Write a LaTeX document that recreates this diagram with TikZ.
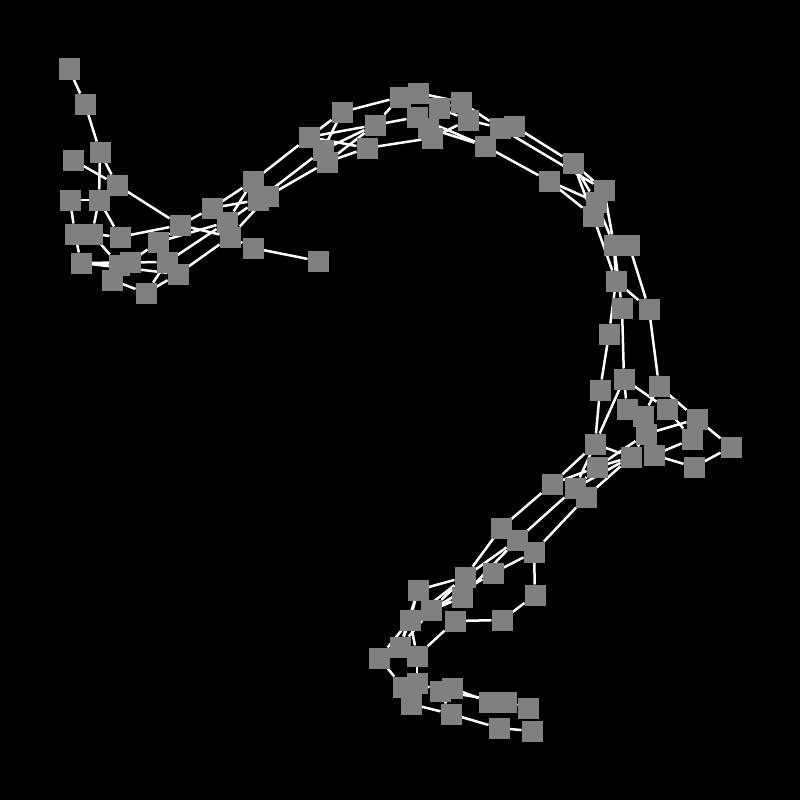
\documentclass[tikz,border=0pt]{standalone}
\pgfdeclarelayer{bg}
\pgfdeclarelayer{edges}
\pgfsetlayers{bg,edges,main}
\definecolor{nodegray}{RGB}{128,128,128}
\begin{document}
\begin{tikzpicture}[x=1pt,y=-1pt,
  nd/.style={rectangle, fill=nodegray, draw=none, minimum size=21pt, inner sep=0pt, outer sep=0pt},
  ed/.style={draw=white, line width=2.5pt}]
\useasboundingbox (0,0) rectangle (800,800);
\begin{pgfonlayer}{bg}
\fill[black] (0,0) rectangle (800,800);
\end{pgfonlayer}
% nodes
\foreach \n/\x/\y in {
 n1/69/69, n2/85/104, n3/100/152, n4/73/160, n5/117/185, n6/70/200, n7/99/200,
 n8a/75/234, n8b/92/234, n9/120/237, n10/81/263, n11a/119/265, n11b/130/262,
 n12/112/280, n13/146/293, n14/158/242, n15/167/262, n16/178/274, n17/180/225,
 n18/212/208, n19/227/222, n20/230/237, n21/253/248, n22/318/261, n23/253/181,
 n24a/258/200, n24b/268/196, n25/309/137, n26a/323/150, n26b/327/162, n27/342/112,
 n28/375/125, n29/367/148, n30/400/97, n31/418/93, n32/439/108, n33/417/117,
 n34b/428/128, n34/432/138, n35/461/102, n36/468/120, n37/485/146, n38a/500/128,
 n38b/514/126, n39/573/163, n40/549/181, n41/604/190, n42a/596/202, n42b/593/216,
 n43a/614/245, n43b/629/245, n44/616/281, n45/622/308, n46/649/309, n47/609/334,
 n48/624/379, n49/600/390, n50/659/386, n51/627/409, n52/643/416, n53/667/409,
 n54/646/434, n55/697/419, n56/692/439, n57/731/447, n58/595/444, n59/597/467,
 n60/631/457, n61/654/455, n62/694/467, n63/552/484, n64/575/488, n65/586/497,
 n66/501/528, n67/517/540, n68/534/552, n69/493/573, n70/465/577, n71/462/597,
 n72/535/595, n73/418/590, n74/431/610, n75/410/620, n76/455/621, n77/502/620,
 n78/400/647, n79/379/658, n80/417/656, n81a/403/687, n81b/417/683, n82/411/704,
 n83a/440/691, n83b/452/688, n84/451/714, n85a/489/702, n85b/506/702, n86/528/708,
 n87/499/728, n88/532/731}
 \node[nd] (\n) at (\x,\y) {};
% edges
\begin{pgfonlayer}{edges}
\foreach \a/\b in {
 n1/n2, n2/n3, n3/n7, n3/n5, n4/n5, n5/n17, n6/n7, n6/n8a, n7/n8b, n7/n9,
 n8b/n9, n9/n17, n8a/n10, n10/n11a, n10/n15, n10/n16, n8b/n11a, n11b/n14,
 n12/n13, n13/n15, n13/n16, n14/n17, n14/n19, n15/n19, n16/n20, n17/n18,
 n17/n20, n20/n21, n21/n22, n18/n23, n18/n24a, n19/n23, n19/n24a, n20/n24b,
 n23/n25, n24a/n26a, n24b/n26b,
 n25/n27, n25/n28, n25/n29, n26a/n28, n26a/n27, n26b/n29, n26b/n28, n27/n30,
 n28/n30, n28/n33, n29/n34, n30/n31, n30/n33, n31/n35, n31/n32, n32/n36,
 n33/n37, n34/n36, n34b/n37, n35/n38a, n36/n38a, n32/n35, n37/n40, n38a/n41,
 n38b/n39,
 n39/n41, n39/n42a, n40/n42a, n40/n42b, n39/n42b, n41/n43a, n42a/n43a,
 n42b/n44, n43a/n44, n43a/n45, n43b/n46, n44/n47, n44/n46, n45/n48, n47/n49,
 n46/n50,
 n48/n58, n49/n58, n48/n53, n50/n55, n50/n52, n53/n56, n55/n57, n57/n62,
 n61/n62, n56/n61, n54/n55, n58/n60, n59/n60, n60/n54, n48/n51,
 n58/n63, n58/n64, n59/n63, n59/n64, n60/n64, n60/n65, n54/n59,
 n63/n66, n64/n67, n65/n68,
 n66/n70, n67/n70, n67/n71, n68/n69, n68/n72, n72/n77, n77/n76, n76/n80,
 n73/n70, n74/n70, n74/n71, n75/n70, n75/n71, n74/n69, n73/n75, n73/n78,
 n75/n78, n74/n78, n75/n80, n79/n75, n79/n81a, n80/n81b, n81b/n83a,
 n83b/n85a, n83a/n85b, n82/n84, n83a/n84, n84/n87, n87/n88, n85b/n86,
 n81a/n82}
 \draw[ed] (\a) -- (\b);
\end{pgfonlayer}
\end{tikzpicture}
\end{document}
